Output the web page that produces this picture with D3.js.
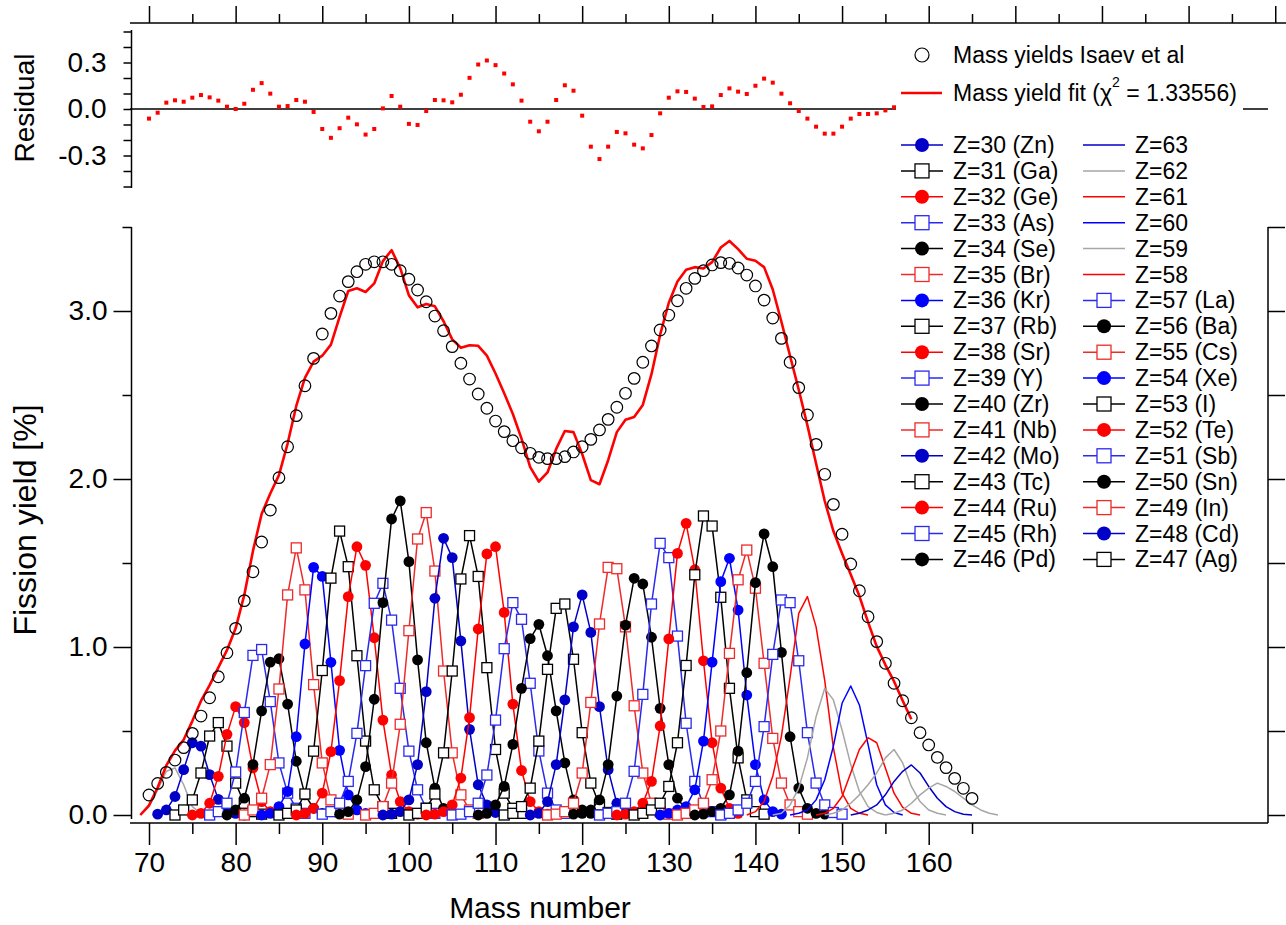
<!DOCTYPE html>
<html>
<head>
<meta charset="utf-8">
<script src="https://cdn.jsdelivr.net/npm/d3@7"></script>
<style>
  body { margin: 0; background: #fff; }
  svg text { font-family: "Liberation Sans", Arial, sans-serif; fill: #000; }
</style>
</head>
<body>
<svg id="chart" width="1286" height="925"></svg>
<script>
// Mass yields (Isaev et al), A = 70 .. 165
var yieldFirstA = 70;
var massYield = [
  0.119,0.188,0.254,0.327,0.401,0.486,0.589,0.698,0.823,0.966,
  1.111,1.276,1.448,1.625,1.815,2.008,2.192,2.377,2.555,2.718,
  2.863,2.986,3.089,3.175,3.234,3.278,3.293,3.293,3.278,3.240,
  3.189,3.125,3.055,2.970,2.883,2.788,2.689,2.595,2.506,2.421,
  2.345,2.282,2.228,2.186,2.153,2.129,2.121,2.121,2.133,2.161,
  2.192,2.236,2.292,2.355,2.427,2.510,2.599,2.695,2.792,2.887,
  2.976,3.061,3.135,3.194,3.240,3.274,3.288,3.284,3.256,3.214,
  3.149,3.065,2.958,2.837,2.695,2.544,2.381,2.206,2.028,1.849,
  1.671,1.494,1.335,1.180,1.032,0.903,0.784,0.680,0.579,0.490,
  0.417,0.343,0.282,0.218,0.159,0.099];

// Mass yield fit, A = 69 .. 158
var fitFirstA = 69;
var fitYield = [
  0.000,
  0.057,0.164,0.295,0.383,0.448,0.559,0.679,0.773,0.877,0.981,
  1.111,1.310,1.572,1.792,1.914,2.023,2.211,2.435,2.602,2.699,
  2.734,2.800,2.965,3.119,3.135,3.113,3.164,3.297,3.362,3.255,
  3.093,3.022,3.042,3.028,2.939,2.831,2.781,2.796,2.793,2.734,
  2.628,2.511,2.387,2.240,2.071,1.985,2.039,2.179,2.286,2.279,
  2.149,1.993,1.969,2.112,2.279,2.353,2.369,2.441,2.624,2.859,
  3.049,3.175,3.245,3.261,3.253,3.291,3.378,3.417,3.368,3.311,
  3.299,3.261,3.128,2.936,2.732,2.531,2.319,2.092,1.869,1.690,
  1.557,1.432,1.303,1.148,1.004,0.894,0.795,0.680,0.570];

// residual (fit - data), A = 70 .. 156
var resFirstA = 70;
var residual = [
  -0.062,-0.024,0.041,0.056,0.047,0.073,0.090,0.075,0.054,0.015,
  0.000,0.034,0.124,0.167,0.099,0.015,0.019,0.058,0.047,-0.019,
  -0.129,-0.186,-0.124,-0.056,-0.099,-0.165,-0.129,0.004,0.084,0.015,
  -0.096,-0.103,-0.013,0.058,0.056,0.043,0.092,0.201,0.287,0.313,
  0.283,0.229,0.159,0.054,-0.082,-0.144,-0.082,0.058,0.153,0.118,
  -0.043,-0.243,-0.323,-0.243,-0.148,-0.157,-0.230,-0.254,-0.168,-0.028,
  0.073,0.114,0.110,0.067,0.013,0.017,0.090,0.133,0.112,0.097,
  0.150,0.196,0.170,0.099,0.037,-0.013,-0.062,-0.114,-0.159,-0.159,
  -0.114,-0.062,-0.032,-0.032,-0.028,-0.009,0.011];

// element yields per Z: first mass number and the yields from there on
var zNumbers = [29,30,31,32,33,34,35,36,37,38,39,40,41,42,43,44,45,46,
                47,48,49,50,51,52,53,54,55,56,57,58,59,60,61,62,63,64];
var zLabels = ["", "Z=30 (Zn)","Z=31 (Ga)","Z=32 (Ge)","Z=33 (As)","Z=34 (Se)","Z=35 (Br)",
  "Z=36 (Kr)","Z=37 (Rb)","Z=38 (Sr)","Z=39 (Y)","Z=40 (Zr)","Z=41 (Nb)","Z=42 (Mo)",
  "Z=43 (Tc)","Z=44 (Ru)","Z=45 (Rh)","Z=46 (Pd)","Z=47 (Ag)","Z=48 (Cd)","Z=49 (In)",
  "Z=50 (Sn)","Z=51 (Sb)","Z=52 (Te)","Z=53 (I)","Z=54 (Xe)","Z=55 (Cs)","Z=56 (Ba)",
  "Z=57 (La)","Z=58","Z=59","Z=60","Z=61","Z=62","Z=63",""];
var zFirstA = [69,71,73,75,77,79,81,83,85,87,90,92,95,97,100,102,105,108,
               111,114,116,119,122,124,126,129,131,133,136,139,142,144,147,148,151,155];
var zYields = [
  [0.00,0.05,0.15,0.26,0.28,0.18,0.05,0.01,0.00],
  [0.005,0.03,0.11,0.27,0.43,0.41,0.24,0.093,0.03,0.01,0.00],
  [0.00,0.03,0.09,0.25,0.47,0.55,0.41,0.19,0.07,0.02,0.005],
  [0.00,0.01,0.07,0.23,0.48,0.645,0.55,0.28,0.08,0.02,0.005],
  [0.00,0.02,0.07,0.256,0.61,0.95,0.985,0.675,0.31,0.13,0.04,0.01],
  [0.00,0.03,0.10,0.30,0.62,0.91,0.93,0.66,0.32,0.12,0.04,0.01],
  [0.00,0.03,0.10,0.30,0.75,1.31,1.59,1.34,0.776,0.31,0.09,0.02,0.005],
  [0.00,0.01,0.05,0.14,0.466,1.018,1.474,1.42,0.909,0.385,0.12,0.03,0.01],
  [0.00,0.01,0.03,0.125,0.38,0.86,1.41,1.69,1.478,0.948,0.44,0.15,0.05,0.01],
  [0.00,0.01,0.04,0.13,0.377,0.80,1.30,1.597,1.486,1.055,0.565,0.238,0.08,0.02,0.005],
  [0.005,0.02,0.07,0.20,0.486,0.889,1.26,1.379,1.16,0.754,0.38,0.15,0.04,0.01],
  [0.005,0.02,0.09,0.288,0.689,1.264,1.762,1.87,1.508,0.923,0.43,0.16,0.04,0.01],
  [0.00,0.01,0.05,0.19,0.54,1.097,1.643,1.80,1.452,0.857,0.37,0.12,0.03,0.01],
  [0.00,0.005,0.02,0.09,0.30,0.734,1.29,1.647,1.532,1.036,0.51,0.18,0.06,0.015],
  [0.00,0.01,0.04,0.125,0.37,0.857,1.405,1.663,1.42,0.877,0.39,0.13,0.04,0.01],
  [0.00,0.005,0.02,0.06,0.22,0.58,1.107,1.554,1.597,1.206,0.66,0.265,0.08,0.02,0.005],
  [0.00,0.005,0.02,0.07,0.238,0.565,0.99,1.264,1.165,0.784,0.381,0.13,0.03,0.01],
  [0.00,0.01,0.06,0.17,0.42,0.754,1.05,1.135,0.948,0.62,0.31,0.09,0.03,0.01],
  [0.00,0.01,0.05,0.16,0.44,0.867,1.23,1.256,0.927,0.49,0.19,0.06,0.015,0.005],
  [0.00,0.01,0.08,0.30,0.685,1.12,1.31,1.087,0.645,0.27,0.07,0.02,0.005],
  [0.00,0.005,0.02,0.07,0.25,0.67,1.137,1.474,1.466,1.12,0.65,0.25,0.07,0.02,0.005],
  [0.005,0.01,0.03,0.09,0.30,0.708,1.13,1.409,1.375,1.058,0.635,0.30,0.10,0.03,0.01],
  [0.00,0.01,0.02,0.07,0.26,0.718,1.256,1.617,1.532,1.065,0.546,0.20,0.06,0.02,0.005],
  [0.00,0.005,0.02,0.07,0.20,0.53,1.048,1.557,1.736,1.46,0.918,0.43,0.16,0.04,0.01],
  [0.00,0.01,0.03,0.07,0.17,0.43,0.89,1.43,1.78,1.72,1.296,0.754,0.34,0.09,0.02,0.005],
  [0.00,0.01,0.03,0.05,0.15,0.44,0.91,1.389,1.528,1.22,0.714,0.30,0.09,0.02,0.005],
  [0.00,0.01,0.03,0.07,0.21,0.50,0.962,1.40,1.577,1.35,0.903,0.456,0.19,0.06,0.02,0.005],
  [0.00,0.005,0.02,0.04,0.12,0.38,0.847,1.383,1.673,1.478,0.968,0.466,0.16,0.04,0.01,0.005],
  [0.00,0.01,0.03,0.07,0.20,0.526,0.956,1.28,1.264,0.918,0.49,0.19,0.06,0.015,0.005],
  [0.00,0.02,0.08,0.23,0.47,0.82,1.20,1.30,1.12,0.80,0.40,0.13,0.04,0.01,0.00],
  [0.00,0.01,0.06,0.16,0.34,0.585,0.754,0.685,0.506,0.30,0.14,0.05,0.015,0.00],
  [0.00,0.01,0.03,0.09,0.21,0.41,0.665,0.768,0.655,0.42,0.18,0.06,0.015,0.00],
  [0.00,0.01,0.04,0.11,0.25,0.39,0.46,0.43,0.28,0.13,0.045,0.01,0.00],
  [0.00,0.01,0.03,0.07,0.12,0.18,0.25,0.34,0.39,0.31,0.17,0.08,0.03,0.01,0.00],
  [0.00,0.01,0.03,0.06,0.12,0.20,0.26,0.298,0.25,0.17,0.10,0.05,0.02,0.005,0.00],
  [0.00,0.01,0.03,0.07,0.12,0.16,0.19,0.17,0.14,0.10,0.06,0.03,0.01,0.00]
];

var legendLeft = [30,31,32,33,34,35,36,37,38,39,40,41,42,43,44,45,46];
var legendRight = [63,62,61,60,59,58,57,56,55,54,53,52,51,50,49,48,47];
var chiText = "1.33556";

// look of each Z trace (marker kind, colour)
var DKBLUE = "#0000c8", BLUE = "#0000ff", SQBLUE = "#2a2aee", RED = "#ff0000",
    SQRED = "#ee2a2a", GRAY = "#a6a6a6";
function zLook(z) {
  if (z <= 29 || z == 64 || z == 59 || z == 62) return {mark: "none", col: GRAY};
  if (z == 58 || z == 61) return {mark: "none", col: RED};
  if (z == 60) return {mark: "none", col: BLUE};
  if (z == 63) return {mark: "none", col: DKBLUE};
  var k, light = z <= 46;
  if (light) k = (z - 30) % 6; else k = (z - 47) % 6;
  var seq = light ?
    [["circle", null], ["square", "#000"], ["circle", RED], ["square", SQBLUE], ["circle", "#000"], ["square", SQRED]] :
    [["square", "#000"], ["circle", null], ["square", SQRED], ["circle", "#000"], ["square", SQBLUE], ["circle", RED]];
  var m = seq[k];
  var c = m[1];
  if (c === null) c = (z == 36 || z == 54) ? BLUE : DKBLUE;
  return {mark: m[0], col: c};
}

var svg = d3.select("#chart");
var x = d3.scaleLinear().domain([70, 160]).range([149, 928.7]);
var yMain = d3.scaleLinear().domain([0, 3.5]).range([815, 227]);
var yRes = d3.scaleLinear().domain([-0.5, 0.5]).range([186.5, 31.5]);

function pairs(first, vals) {
  return vals.map(function(v, i) { return [first + i, v]; });
}

// ---------- residual panel
svg.append("line").attr("x1", 130).attr("x2", 1268)
  .attr("y1", yRes(0)).attr("y2", yRes(0))
  .attr("stroke", "#000").attr("stroke-width", 1.5);
svg.append("g").selectAll("rect").data(pairs(resFirstA, residual)).join("rect")
  .attr("x", function(d) { return x(d[0]) - 2; })
  .attr("y", function(d) { return yRes(d[1]) - 2; })
  .attr("width", 4).attr("height", 4).attr("fill", RED);

// ---------- main panel traces
var line = d3.line().x(function(d) { return x(d[0]); }).y(function(d) { return yMain(d[1]); });
var plot = svg.append("g");

zNumbers.forEach(function(z, i) {
  var pts = pairs(zFirstA[i], zYields[i]);
  var st = zLook(z);
  var g = plot.append("g");
  g.append("path").attr("d", line(pts)).attr("fill", "none")
    .attr("stroke", st.col).attr("stroke-width", 1.5).attr("stroke-linejoin", "round");
  if (st.mark == "circle") {
    g.selectAll("circle").data(pts).join("circle")
      .attr("cx", function(d) { return x(d[0]); })
      .attr("cy", function(d) { return yMain(d[1]); })
      .attr("r", 5.4).attr("fill", st.col);
  } else if (st.mark == "square") {
    g.selectAll("rect").data(pts).join("rect")
      .attr("x", function(d) { return x(d[0]) - 5; })
      .attr("y", function(d) { return yMain(d[1]) - 5; })
      .attr("width", 10).attr("height", 10)
      .attr("fill", "#fff").attr("stroke", st.col).attr("stroke-width", 1.3);
  }
});

plot.append("path").attr("d", line(pairs(fitFirstA, fitYield)))
  .attr("fill", "none").attr("stroke", RED).attr("stroke-width", 2.6)
  .attr("stroke-linejoin", "round");

plot.append("g").selectAll("circle").data(pairs(yieldFirstA, massYield)).join("circle")
  .attr("cx", function(d) { return x(d[0]); })
  .attr("cy", function(d) { return yMain(d[1]); })
  .attr("r", 5.8).attr("fill", "none").attr("stroke", "#000").attr("stroke-width", 1.2);

// ---------- axes
function styleAxis(g, fs) {
  g.attr("font-family", null).attr("font-size", null);
  g.select(".domain").remove();
  g.selectAll(".tick line").attr("stroke", "#000").attr("stroke-width", 1.5);
  g.selectAll(".tick text").attr("font-size", fs).attr("fill", "#000");
}
var one = function(d) { return d.toFixed(1); };

// bottom
svg.append("g").attr("transform", "translate(0,823)")
  .call(d3.axisBottom(x).tickValues(d3.range(70, 161, 10)).tickSize(22).tickPadding(7).tickFormat(d3.format("d")))
  .call(styleAxis, 28);
svg.append("g").attr("transform", "translate(0,823)")
  .call(d3.axisBottom(x).tickValues(d3.range(75, 166, 10)).tickSize(11).tickFormat(""))
  .call(styleAxis, 28);
svg.append("line").attr("x1", 130).attr("x2", 1268).attr("y1", 823).attr("y2", 823)
  .attr("stroke", "#000").attr("stroke-width", 1.5);

// top
svg.append("g").attr("transform", "translate(0,23)")
  .call(d3.axisTop(x).tickValues(d3.range(70, 201, 10)).tickSize(17).tickFormat(""))
  .call(styleAxis, 28);
svg.append("g").attr("transform", "translate(0,23)")
  .call(d3.axisTop(x).tickValues(d3.range(75, 196, 10)).tickSize(9).tickFormat(""))
  .call(styleAxis, 28);
svg.append("line").attr("x1", 130).attr("x2", 1286).attr("y1", 23).attr("y2", 23)
  .attr("stroke", "#000").attr("stroke-width", 1.5);

// left main
svg.append("g").attr("transform", "translate(131.5,0)")
  .call(d3.axisLeft(yMain).tickValues([0, 1, 2, 3]).tickSize(18).tickPadding(6).tickFormat(one))
  .call(styleAxis, 28);
svg.append("g").attr("transform", "translate(131.5,0)")
  .call(d3.axisLeft(yMain).tickValues([0.5, 1.5, 2.5, 3.5]).tickSize(9).tickFormat(""))
  .call(styleAxis, 28);
svg.append("line").attr("x1", 131.5).attr("x2", 131.5).attr("y1", 227).attr("y2", 819)
  .attr("stroke", "#000").attr("stroke-width", 1.5);

// right main (mirror)
svg.append("g").attr("transform", "translate(1268,0)")
  .call(d3.axisRight(yMain).tickValues([0, 0.5, 1, 1.5, 2, 2.5, 3, 3.5]).tickSize(17).tickFormat(""))
  .call(styleAxis, 28);
svg.append("line").attr("x1", 1268).attr("x2", 1268).attr("y1", 227).attr("y2", 823)
  .attr("stroke", "#000").attr("stroke-width", 1.5);

// residual axis
var resTicks = [-0.5, -0.4, -0.3, -0.2, -0.1, 0, 0.1, 0.2, 0.3, 0.4, 0.5];
svg.append("g").attr("transform", "translate(131.5,0)")
  .call(d3.axisLeft(yRes).tickValues(resTicks).tickSize(8).tickPadding(17)
    .tickFormat(function(d) { return (Math.abs(Math.abs(d) - 0.3) < 1e-9 || d === 0) ? d.toFixed(1) : ""; }))
  .call(styleAxis, 28);
svg.append("line").attr("x1", 131.5).attr("x2", 131.5).attr("y1", 30).attr("y2", 188)
  .attr("stroke", "#000").attr("stroke-width", 1.5);

// axis titles
svg.append("text").attr("transform", "translate(34,108) rotate(-90)")
  .attr("text-anchor", "middle").attr("font-size", 28).text("Residual");
svg.append("text").attr("transform", "translate(36,520) rotate(-90)")
  .attr("text-anchor", "middle").attr("font-size", 32).text("Fission yield [%]");
svg.append("text").attr("x", 540).attr("y", 918)
  .attr("text-anchor", "middle").attr("font-size", 30).text("Mass number");

// ---------- legend
var lg = svg.append("g");
lg.append("rect").attr("x", 896).attr("y", 35).attr("width", 347).attr("height", 540).attr("fill", "#fff");

lg.append("circle").attr("cx", 922).attr("cy", 55).attr("r", 7)
  .attr("fill", "none").attr("stroke", "#000").attr("stroke-width", 1.2);
lg.append("text").attr("x", 953).attr("y", 63).attr("font-size", 23).text("Mass yields Isaev et al");
lg.append("line").attr("x1", 901).attr("x2", 942).attr("y1", 93).attr("y2", 93)
  .attr("stroke", RED).attr("stroke-width", 2.6);
var ft = lg.append("text").attr("x", 953).attr("y", 101).attr("font-size", 23);
ft.append("tspan").text("Mass yield fit (\u03c7");
ft.append("tspan").attr("dy", -14).attr("font-size", 14).text("2");
ft.append("tspan").attr("dy", 14).text(" = " + chiText + ")");

function keyRow(z, x0, cy) {
  var i = zNumbers.indexOf(z);
  var st = zLook(z);
  lg.append("line").attr("x1", x0).attr("x2", x0 + 42).attr("y1", cy).attr("y2", cy)
    .attr("stroke", st.col).attr("stroke-width", 1.5);
  if (st.mark == "circle") {
    lg.append("circle").attr("cx", x0 + 21).attr("cy", cy).attr("r", 7).attr("fill", st.col);
  } else if (st.mark == "square") {
    lg.append("rect").attr("x", x0 + 14).attr("y", cy - 7).attr("width", 14).attr("height", 14)
      .attr("fill", "#fff").attr("stroke", st.col).attr("stroke-width", 1.3);
  }
  lg.append("text").attr("x", x0 + 52).attr("y", cy + 8).attr("font-size", 23).text(zLabels[i]);
}
legendLeft.forEach(function(z, r) { keyRow(z, 901, 145 + r * 25.9); });
legendRight.forEach(function(z, r) { keyRow(z, 1083, 145 + r * 25.9); });
</script>
</body>
</html>
